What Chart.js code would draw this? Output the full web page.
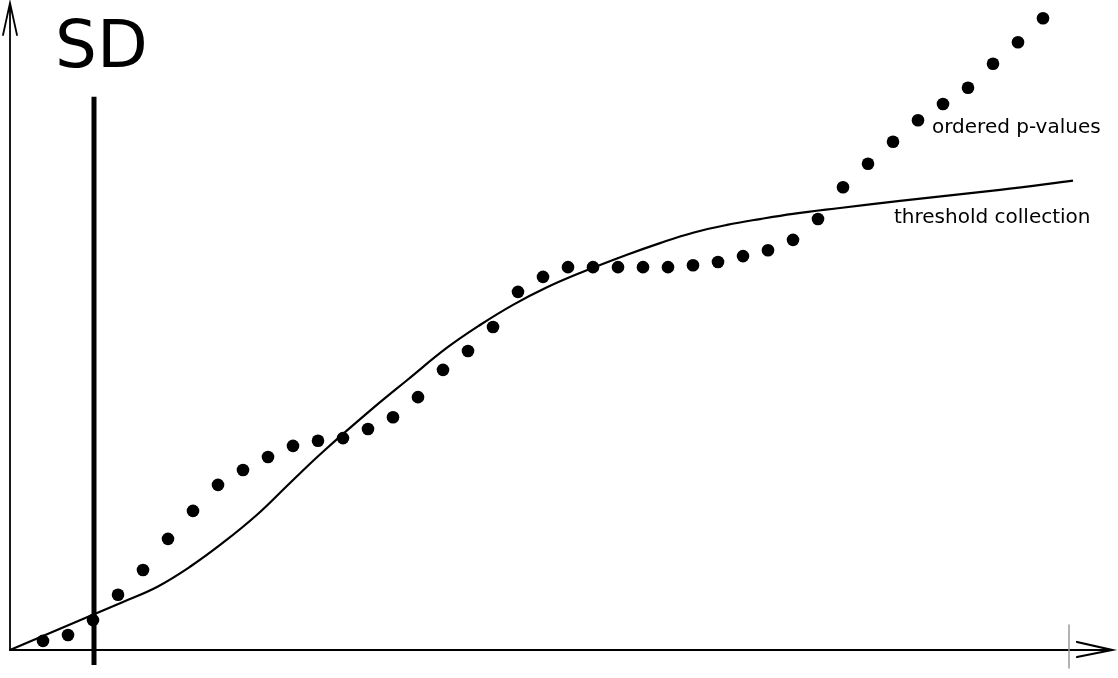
<!DOCTYPE html>
<html>
<head>
<meta charset="utf-8">
<title>ordered p-values vs threshold collection</title>
<script src="https://cdn.jsdelivr.net/npm/chart.js@4.4.1/dist/chart.umd.min.js"></script>
<style>
  html, body { margin: 0; padding: 0; background: #fff; }
  canvas { display: block; }
</style>
</head>
<body>
<canvas id="sdChart" width="1118" height="678"></canvas>
<script>
// rank of each ordered p-value (x) and its value (y, 0..1)
const ranks = [1, 2, 3, 4, 5, 6, 7, 8, 9, 10, 11, 12, 13, 14, 15, 16, 17, 18, 19, 20,
  21, 22, 23, 24, 25, 26, 27, 28, 29, 30, 31, 32, 33, 34, 35, 36, 37, 38, 39, 40, 41];
const pValues = [0.014, 0.023, 0.046, 0.085, 0.123, 0.171, 0.214, 0.254, 0.277, 0.297,
  0.314, 0.322, 0.326, 0.340, 0.358, 0.389, 0.431, 0.460, 0.497, 0.551,
  0.574, 0.589, 0.589, 0.589, 0.589, 0.589, 0.592, 0.597, 0.606, 0.615,
  0.631, 0.663, 0.712, 0.748, 0.782, 0.815, 0.840, 0.865, 0.902, 0.935, 0.972];

// threshold collection curve
const thresholdX = [-0.32, 3.16, 4.2, 5.56, 6.88, 8.2, 9.56, 10.88, 12.2, 14.2, 15.56, 17.16,
  18.48, 19.8, 21.16, 22.48, 24.36, 25.68, 27.0, 28.36, 29.68, 31.0, 32.88, 35.28, 39.28, 42.2];
const thresholdY = [0, 0.057, 0.074, 0.097, 0.128, 0.165, 0.208, 0.257, 0.305, 0.372, 0.415, 0.465,
  0.500, 0.531, 0.558, 0.580, 0.608, 0.626, 0.642, 0.654, 0.663, 0.671, 0.680, 0.691, 0.708, 0.722];

// the SD cut (rank) and how far its line runs
const sdRank = 3.04;
const sdRange = [-0.023, 0.851];

const originX = -0.32;
const tickX = 42.04;

const labels = { sd: 'SD', pvalues: 'ordered p-values', threshold: 'threshold collection' };

function toPoints(xs, ys) {
  return xs.map((x, i) => ({ x: x, y: ys[i] }));
}

// axes with open arrow heads plus the text labels
const sketchAxes = {
  id: 'sketchAxes',
  afterDatasetsDraw(chart) {
    const c = chart.ctx;
    const xs = chart.scales.x, ys = chart.scales.y;
    const ox = xs.getPixelForValue(originX);
    const oy = ys.getPixelForValue(0);
    const xEnd = 1112, yEnd = 3;
    c.save();
    c.strokeStyle = '#000';
    c.lineCap = 'round';

    // y axis
    c.lineWidth = 1.8;
    c.beginPath();
    c.moveTo(ox, oy);
    c.lineTo(ox, yEnd);
    c.moveTo(ox - 7, yEnd + 32);
    c.lineTo(ox, yEnd);
    c.lineTo(ox + 7, yEnd + 32);
    c.stroke();

    // x axis
    c.lineWidth = 2.2;
    c.beginPath();
    c.moveTo(ox, oy);
    c.lineTo(xEnd, oy);
    c.moveTo(xEnd - 35, oy - 8);
    c.lineTo(xEnd, oy);
    c.lineTo(xEnd - 35, oy + 7);
    c.stroke();

    // little grey mark at the end of the x axis
    const tx = xs.getPixelForValue(tickX);
    c.strokeStyle = '#9a9a9a';
    c.lineWidth = 1.5;
    c.beginPath();
    c.moveTo(tx, oy - 25);
    c.lineTo(tx, oy + 18);
    c.stroke();

    // texts
    c.fillStyle = '#000';
    c.textBaseline = 'alphabetic';
    c.textAlign = 'left';
    c.font = '66px "DejaVu Sans"';
    c.fillText(labels.sd, 55, 67);
    c.font = '20px "DejaVu Sans"';
    c.fillText(labels.pvalues, 932, 133);
    c.fillText(labels.threshold, 894, 223);
    c.restore();
  }
};

const ctx = document.getElementById('sdChart').getContext('2d');
let chart = new Chart(ctx, {
  type: 'scatter',
  data: {
    datasets: [
      {
        label: labels.threshold,
        data: toPoints(thresholdX, thresholdY),
        showLine: true,
        borderColor: '#000',
        borderWidth: 2.2,
        pointRadius: 0,
        tension: 0.4,
        clip: false
      },
      {
        label: labels.pvalues,
        data: toPoints(ranks, pValues),
        backgroundColor: '#000',
        borderColor: '#000',
        pointRadius: 6.3,
        pointBorderWidth: 0,
        clip: false
      },
      {
        label: labels.sd,
        data: [{ x: sdRank, y: sdRange[0] }, { x: sdRank, y: sdRange[1] }],
        showLine: true,
        borderColor: '#000',
        borderWidth: 5,
        pointRadius: 0,
        clip: false
      }
    ]
  },
  options: {
    responsive: false,
    animation: false,
    layout: { padding: 0, autoPadding: false },
    plugins: {
      legend: { display: false },
      tooltip: { enabled: false },
      title: { display: false }
    },
    scales: {
      x: { type: 'linear', display: false, min: -0.72, max: 44 },
      y: { type: 'linear', display: false, min: -0.0431, max: 1 }
    }
  },
  plugins: [sketchAxes]
});
</script>
</body>
</html>
